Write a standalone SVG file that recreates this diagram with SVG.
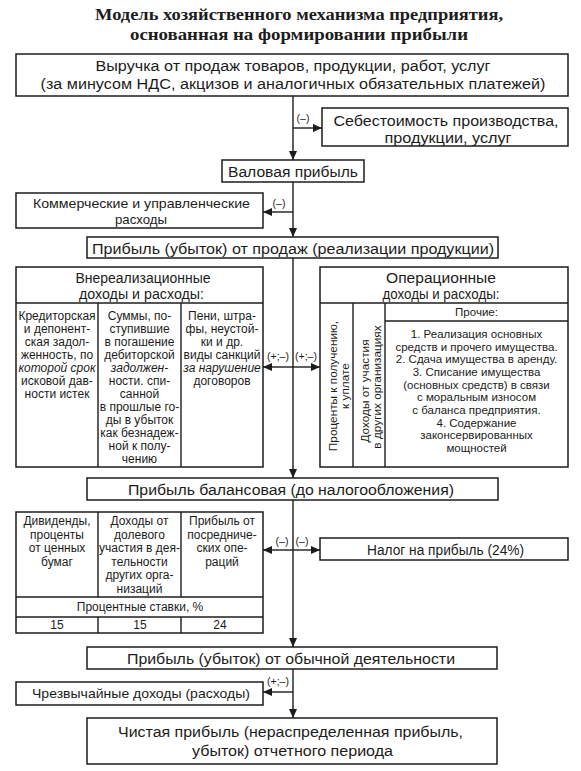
<svg xmlns="http://www.w3.org/2000/svg" width="581" height="771" viewBox="0 0 581 771">
<defs>
<style>
.bg{fill:#fff}
.box{fill:#fff;stroke:#1c1c1c;stroke-width:1.5}
.ln{stroke:#1c1c1c;stroke-width:1.4;fill:none}
.con{stroke:#1c1c1c;stroke-width:1.4;fill:none;marker-end:url(#ah)}
.t{font-family:"Liberation Sans",Arial,sans-serif;fill:#1c1c1c;text-anchor:middle;dominant-baseline:central}
.m{font-size:15.5px}
.h{font-size:13.8px}
.k{font-size:13.5px}
.s{font-size:12px}
.v{font-size:11.8px}
.p{font-size:11.5px}
.lb{font-size:10.5px}
.ti{font-family:"Liberation Serif","Times New Roman",serif;font-weight:bold;font-size:17px;fill:#1c1c1c;text-anchor:middle;dominant-baseline:central}
</style>
<marker id="ah" markerWidth="9" markerHeight="8" refX="9" refY="4" orient="auto" markerUnits="userSpaceOnUse">
<path d="M0,0 L9,4 L0,8 Z" fill="#1c1c1c"/>
</marker>
</defs>
<rect class="bg" x="0" y="0" width="581" height="771"/>

<g id="title">
<text class="ti" x="299" y="14" textLength="408" lengthAdjust="spacingAndGlyphs">Модель хозяйственного механизма предприятия,</text>
<text class="ti" x="299" y="34" textLength="338" lengthAdjust="spacingAndGlyphs">основанная на формировании прибыли</text>
</g>

<g id="connectors">
<line class="con" x1="293" y1="96" x2="293" y2="160"/>
<line class="con" x1="293" y1="128" x2="322" y2="128"/>
<line class="con" x1="293" y1="182" x2="293" y2="237"/>
<line class="con" x1="293" y1="212" x2="263" y2="212"/>
<line class="con" x1="293" y1="258" x2="293" y2="478"/>
<line class="con" x1="293" y1="367" x2="263" y2="367"/>
<line class="con" x1="293" y1="367" x2="320" y2="367"/>
<line class="con" x1="293" y1="500" x2="293" y2="647"/>
<line class="con" x1="293" y1="550" x2="263" y2="550"/>
<line class="con" x1="293" y1="550" x2="320" y2="550"/>
<line class="con" x1="293" y1="669" x2="293" y2="718"/>
<line class="con" x1="293" y1="692" x2="263" y2="692"/>
<text class="t lb" x="303" y="118">(–)</text>
<text class="t lb" x="279" y="203">(–)</text>
<text class="t lb" x="278" y="356">(+;–)</text>
<text class="t lb" x="306" y="356">(+;–)</text>
<text class="t lb" x="282" y="541">(–)</text>
<text class="t lb" x="302" y="541">(–)</text>
<text class="t lb" x="278" y="681">(+;–)</text>
</g>

<g id="revenue">
<rect class="box" x="16" y="54" width="552" height="42"/>
<text class="t m" x="293" y="65" textLength="395" lengthAdjust="spacingAndGlyphs">Выручка от продаж товаров, продукции, работ, услуг</text>
<text class="t m" x="293" y="83" textLength="505" lengthAdjust="spacingAndGlyphs">(за минусом НДС, акцизов и аналогичных обязательных платежей)</text>
</g>

<g id="cost">
<rect class="box" x="322" y="108" width="246" height="38"/>
<text class="t m" x="446" y="120" textLength="225" lengthAdjust="spacingAndGlyphs">Себестоимость производства,</text>
<text class="t m" x="448" y="137" textLength="127" lengthAdjust="spacingAndGlyphs">продукции, услуг</text>
</g>

<g id="gross">
<rect class="box" x="222" y="160" width="142" height="22"/>
<text class="t m" x="293" y="171" textLength="130" lengthAdjust="spacingAndGlyphs">Валовая прибыль</text>
</g>

<g id="commercial">
<rect class="box" x="16" y="193" width="247" height="35"/>
<text class="t k" x="141.5" y="203" textLength="217" lengthAdjust="spacingAndGlyphs">Коммерческие и управленческие</text>
<text class="t k" x="141" y="219" textLength="52" lengthAdjust="spacingAndGlyphs">расходы</text>
</g>

<g id="sales">
<rect class="box" x="87" y="237" width="411" height="21"/>
<text class="t m" x="293" y="248" textLength="402" lengthAdjust="spacingAndGlyphs">Прибыль (убыток) от продаж (реализации продукции)</text>
</g>

<g id="nonoperating">
<rect class="box" x="16" y="267" width="247" height="200"/>
<line class="ln" x1="16" y1="303" x2="263" y2="303"/>
<line class="ln" x1="98" y1="303" x2="98" y2="467"/>
<line class="ln" x1="181" y1="303" x2="181" y2="467"/>
<text class="t h" x="143" y="278" textLength="135" lengthAdjust="spacingAndGlyphs">Внереализационные</text>
<text class="t h" x="141.5" y="294" textLength="125" lengthAdjust="spacingAndGlyphs">доходы и расходы:</text>
<g class="t s">
<text x="57" y="316">Кредиторская</text>
<text x="57" y="329">и депонент-</text>
<text x="57" y="342">ская задол-</text>
<text x="57" y="355">женность, по</text>
<text x="57" y="368" font-style="italic">которой срок</text>
<text x="57" y="381">исковой дав-</text>
<text x="57" y="394">ности истек</text>
<text x="139.5" y="316">Суммы, по-</text>
<text x="139.5" y="329">ступившие</text>
<text x="139.5" y="342">в погашение</text>
<text x="139.5" y="355">дебиторской</text>
<text x="139.5" y="368" font-style="italic">задолжен-</text>
<text x="139.5" y="381">ности. спи-</text>
<text x="139.5" y="394">санной</text>
<text x="139.5" y="407">в прошлые го-</text>
<text x="139.5" y="420">ды в убыток</text>
<text x="139.5" y="433">как безнадеж-</text>
<text x="139.5" y="446">ной к полу-</text>
<text x="139.5" y="459">чению</text>
<text x="222" y="316">Пени, штра-</text>
<text x="222" y="329">фы, неустой-</text>
<text x="222" y="342">ки и др.</text>
<text x="222" y="355">виды санкций</text>
<text x="222" y="368" font-style="italic">за нарушение</text>
<text x="222" y="381">договоров</text>
</g>
</g>

<g id="operating">
<rect class="box" x="320" y="267" width="248" height="200"/>
<line class="ln" x1="320" y1="303" x2="568" y2="303"/>
<line class="ln" x1="353" y1="303" x2="353" y2="467"/>
<line class="ln" x1="385" y1="303" x2="385" y2="467"/>
<line class="ln" x1="385" y1="321" x2="568" y2="321"/>
<text class="t h" x="441" y="278" textLength="110" lengthAdjust="spacingAndGlyphs">Операционные</text>
<text class="t h" x="441" y="294" textLength="117" lengthAdjust="spacingAndGlyphs">доходы и расходы:</text>
<g class="t v">
<text transform="translate(333,386) rotate(-90)">Проценты к получению,</text>
<text transform="translate(345,386) rotate(-90)">к уплате</text>
<text transform="translate(365,391) rotate(-90)">Доходы от участия</text>
<text transform="translate(377,387) rotate(-90)">в других организациях</text>
</g>
<text class="t p" x="476.5" y="312">Прочие:</text>
<g class="t p">
<text x="476.5" y="334">1. Реализация основных</text>
<text x="476.5" y="346.7">средств и прочего имущества.</text>
<text x="476.5" y="359.4">2. Сдача имущества в аренду.</text>
<text x="476.5" y="372">3. Списание имущества</text>
<text x="476.5" y="384.7">(основных средств) в связи</text>
<text x="476.5" y="397.4">с моральным износом</text>
<text x="476.5" y="410">с баланса предприятия.</text>
<text x="476.5" y="422.7">4. Содержание</text>
<text x="476.5" y="435.4">законсервированных</text>
<text x="476.5" y="448">мощностей</text>
</g>
</g>

<g id="balance">
<rect class="box" x="87" y="478" width="411" height="22"/>
<text class="t m" x="291" y="489" textLength="326" lengthAdjust="spacingAndGlyphs">Прибыль балансовая (до налогообложения)</text>
</g>

<g id="rates">
<rect class="box" x="16" y="512" width="247" height="121"/>
<line class="ln" x1="16" y1="597" x2="263" y2="597"/>
<line class="ln" x1="16" y1="617" x2="263" y2="617"/>
<line class="ln" x1="98" y1="512" x2="98" y2="597"/>
<line class="ln" x1="181" y1="512" x2="181" y2="597"/>
<line class="ln" x1="98" y1="617" x2="98" y2="633"/>
<line class="ln" x1="181" y1="617" x2="181" y2="633"/>
<g class="t s">
<text x="57" y="521">Дивиденды,</text>
<text x="57" y="534.5">проценты</text>
<text x="57" y="548">от ценных</text>
<text x="57" y="561.5">бумаг</text>
<text x="139.5" y="521">Доходы от</text>
<text x="139.5" y="534.5">долевого</text>
<text x="139.5" y="548">участия в дея-</text>
<text x="139.5" y="561.5">тельности</text>
<text x="139.5" y="575">других орга-</text>
<text x="139.5" y="588.5">низаций</text>
<text x="222" y="521">Прибыль от</text>
<text x="222" y="534.5">посредниче-</text>
<text x="222" y="548">ских опе-</text>
<text x="222" y="561.5">раций</text>
<text x="140" y="607">Процентные ставки, %</text>
<text x="57" y="625">15</text>
<text x="140" y="625">15</text>
<text x="220" y="625">24</text>
</g>
</g>

<g id="tax">
<rect class="box" x="320" y="538" width="248" height="22"/>
<text class="t m" x="445.5" y="549" textLength="157" lengthAdjust="spacingAndGlyphs">Налог на прибыль (24%)</text>
</g>

<g id="ordinary">
<rect class="box" x="87" y="647" width="410" height="22"/>
<text class="t m" x="291" y="658" textLength="328" lengthAdjust="spacingAndGlyphs">Прибыль (убыток) от обычной деятельности</text>
</g>

<g id="extraordinary">
<rect class="box" x="16" y="682" width="247" height="23"/>
<text class="t k" x="141" y="693.5" textLength="218" lengthAdjust="spacingAndGlyphs">Чрезвычайные доходы (расходы)</text>
</g>

<g id="net">
<rect class="box" x="87" y="718" width="410" height="46"/>
<text class="t m" x="290.5" y="731" textLength="345" lengthAdjust="spacingAndGlyphs">Чистая прибыль (нераспределенная прибыль,</text>
<text class="t m" x="292.5" y="750" textLength="201" lengthAdjust="spacingAndGlyphs">убыток) отчетного периода</text>
</g>
</svg>
